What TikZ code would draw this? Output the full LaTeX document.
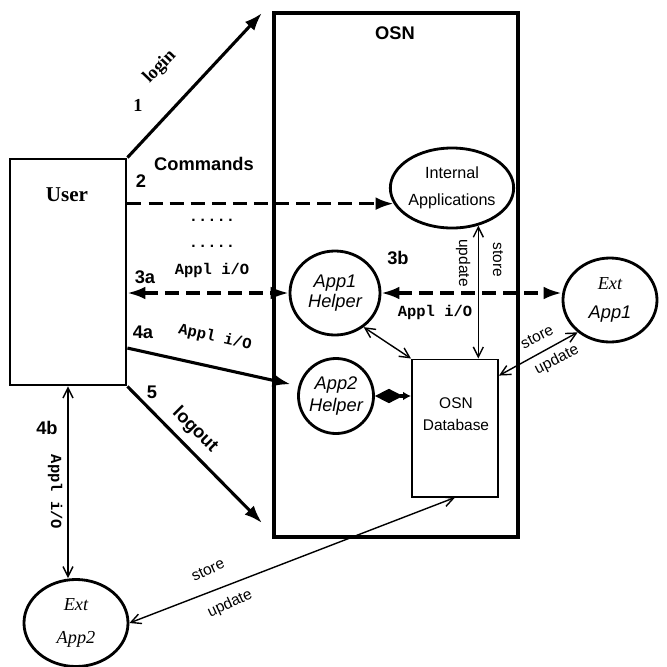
\documentclass[tikz,border=0pt]{standalone}
\usepackage{fontspec}
\setmainfont{Liberation Serif}
\setsansfont{Liberation Sans}
\setmonofont{Liberation Mono}
\usetikzlibrary{shapes.geometric,arrows.meta}

\begin{document}
\begin{tikzpicture}[x=0.025cm,y=-0.025cm,
    frame/.style={draw,rectangle,line width=2pt,inner sep=0pt},
    bubble/.style={draw,ellipse,line width=2pt,inner sep=0pt,align=center},
    thickline/.style={line width=2.2pt},
    dashline/.style={line width=2.2pt,dash pattern=on 10pt off 5pt},
    barbs/.style={line width=1pt,{Straight Barb[length=2.5mm,width=2.5mm]}-{Straight Barb[length=2.5mm,width=2.5mm]}},
    big/.style={font=\sffamily\bfseries\fontsize{13}{15}\selectfont},
    io/.style={font=\ttfamily\bfseries\fontsize{11}{13}\selectfont},
    note/.style={font=\sffamily\fontsize{11}{13}\selectfont},
    >={Latex[length=4.5mm,width=3.2mm]}]
\useasboundingbox (0,0) rectangle (667,667);

\node [frame,minimum width=2.9cm,minimum height=5.65cm] (user) at (68,272) {};
\node [font=\rmfamily\bfseries\fontsize{15}{17}\selectfont] (usertext) at (67,195) {User};
\node [frame,line width=2.8pt,minimum width=6.1cm,minimum height=13.1cm] (osn) at (396,275) {};
\node [big] (osntext) at (395,33) {OSN};

\node [bubble,minimum width=3cm,minimum height=2cm,
       font=\sffamily\fontsize{11.5}{19}\selectfont] (intapp) at (452,188) {Internal\\Applications};
\node [bubble,minimum width=2.25cm,minimum height=2.1cm,
       font=\sffamily\itshape\fontsize{13}{14}\selectfont] (app1h) at (335,293) {App1\\Helper};
\node [bubble,circle,minimum size=1.875cm,
       font=\sffamily\itshape\fontsize{13}{15.5}\selectfont] (app2h) at (336,396) {App2\\Helper};
\node [frame,line width=1.4pt,minimum width=2.15cm,minimum height=3.425cm] (db) at (455,428) {};
\node [align=center,font=\sffamily\fontsize{11}{15.5}\selectfont] (dbtext) at (456,414) {OSN\\Database};
\node [bubble,minimum width=2.35cm,minimum height=2.1cm,
       font=\fontsize{13}{20.6}\selectfont] (extapp1) at (610,300) {{\rmfamily\itshape Ext}\\{\sffamily\itshape App1}};
\node [bubble,minimum width=2.6cm,minimum height=2.175cm,
       font=\rmfamily\itshape\fontsize{13}{24}\selectfont] (extapp2) at (76,623) {Ext\\App2};

\coordinate (loginend) at (262,13);
\draw [thickline,->] (user.north east) -- (loginend);
\node [font=\rmfamily\bfseries\fontsize{13}{15}\selectfont,rotate=46] (login) at (160,67) {login};
\node [font=\rmfamily\bfseries\fontsize{13}{15}\selectfont] (lbl1) at (138,105) {1};

\node [big] (commands) at (204,164) {Commands};
\node [big] (lbl2) at (141,181) {2};
\draw [dashline,->] (user.east |- intapp.195) -- (intapp.195);
\node [io] (dots1) at (212,220) {.....};
\node [io] (dots2) at (212,246) {.....};

\node [io] (io3a) at (212,270) {Appl i/O};
\node [big] (lbl3a) at (145,277) {3a};
\draw [dashline,<->] (user.east |- app1h.west) -- (app1h.west);

\node [big] (lbl3b) at (398,258) {3b};
\draw [dashline,<->] (app1h.east) -- (app1h.east -| extapp1.west);
\node [io] (io3b) at (435,312) {Appl i/O};

\draw [barbs] (intapp.-55) -- (intapp.-55 |- db.north);
\node [note,rotate=-90] (update1) at (463,263) {update};
\node [note,rotate=-90] (store1) at (498,260) {store};

\draw [barbs] (app1h.-50) -- (db.north west);
\draw [thickline,{Diamond[length=7mm,width=3.6mm]}-{Latex[length=2mm,width=2.2mm]}]
    (app2h.east) -- (app2h.east -| db.west);

\node [big] (lbl4a) at (143,332) {4a};
\node [io,rotate=-12.5] (io4a) at (215,338) {Appl i/O};
\draw [thickline,->,shorten >=0.2cm] (user.-52) -- (app2h.165);

\coordinate (logoutend) at (262,523);
\draw [thickline,->] (user.south east) -- (logoutend);
\node [big] (lbl5) at (152,392) {5};
\node [big,rotate=-45] (logout) at (195,430) {logout};

\draw [barbs] (user.south) -- (user.south |- extapp2.north);
\node [big] (lbl4b) at (47,428) {4b};
\node [io,rotate=-90] (io4b) at (55,492) {Appl i/O};

\draw [barbs] (db.south) -- (extapp2.east);
\node [note,rotate=25] (store2) at (208,570) {store};
\node [note,rotate=25] (update2) at (230,604) {update};

\draw [barbs] (extapp1.225) -- (db.50);
\node [note,rotate=27] (store3) at (537,337) {store};
\node [note,rotate=27] (update3) at (557,360) {update};
\end{tikzpicture}
\end{document}
